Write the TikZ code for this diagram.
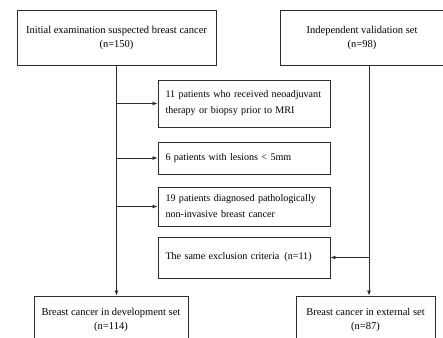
\documentclass[tikz,border=0pt]{standalone}
\usepackage{fontspec}
\setmainfont{Liberation Serif}
\usetikzlibrary{arrows.meta,positioning,calc}
\definecolor{boxline}{RGB}{45,45,45}

\begin{document}
\begin{tikzpicture}[
  x=1pt, y=-1pt,
  setbox/.style={rectangle, draw=boxline, line width=0.9pt,
    font=\fontsize{10.5}{14}\selectfont, align=center, inner sep=0pt},
  exclbox/.style={rectangle, draw=boxline, line width=0.9pt,
    font=\fontsize{10.1}{16}\selectfont, align=left, text width=157pt,
    minimum width=172pt, inner sep=0pt},
  flow/.style={-{Latex[length=5pt,width=4pt]}, line width=0.8pt, color=boxline}
]
\useasboundingbox (0,0) rectangle (443,337);

% Source sets
\node[setbox, minimum width=199pt, minimum height=55pt] (init) at (116.5,37.5)
  {Initial examination suspected breast cancer\\(n=150)};
\node[setbox, minimum width=164pt, minimum height=55pt] (valid) at (362,37.5)
  {Independent validation set\\(n=98)};

% Exclusions
\node[exclbox, minimum height=47pt] (neoadj) at (244,103.5)
  {11 patients who received neoadjuvant\\therapy or biopsy prior to MRI};
\node[exclbox, minimum height=32pt] (lesion) at (244,158)
  {6 patients with lesions < 5mm};
\node[exclbox, minimum height=39pt] (noninv) at (244,206.5)
  {19 patients diagnosed pathologically\\non-invasive breast cancer};
\node[exclbox, minimum height=41pt] (same) at (244,257.5)
  {The same exclusion criteria\enspace(n=11)};

% Final sets
\node[setbox, minimum width=154pt, minimum height=48pt] (devset) at (111,320)
  {Breast cancer in development set\\(n=114)};
\node[setbox, minimum width=139pt, minimum height=48pt] (extset) at (365.5,320)
  {Breast cancer in external set\\(n=87)};

% Trunks
\coordinate (trunkL) at (init.south);
\coordinate (trunkR) at ($(valid.south)+(7,0)$);

% Arrows
\draw[flow] (trunkL) -- (trunkL |- devset.north);
\draw[flow] (trunkR) -- (trunkR |- extset.north);
\draw[flow] (trunkL |- neoadj.west) -- (neoadj.west);
\draw[flow] (trunkL |- lesion.west) -- (lesion.west);
\draw[flow] (trunkL |- noninv.west) -- (noninv.west);
\draw[flow] (trunkR |- same.east) -- (same.east);

\end{tikzpicture}
\end{document}
